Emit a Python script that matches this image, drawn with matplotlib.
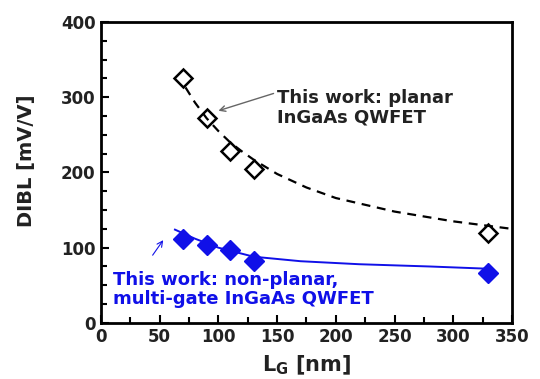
import matplotlib
matplotlib.use('Agg')
import matplotlib.pyplot as plt
from matplotlib.ticker import MultipleLocator

# data
lg_nm = [70, 90, 110, 130, 330]
dibl_planar = [325, 272, 228, 205, 120]
dibl_multigate = [112, 103, 97, 82, 66]

# fitted trend lines
fit_planar_x = [72, 80, 90, 100, 110, 120, 130, 150, 175, 200, 250, 300, 350]
fit_planar_y = [313, 293, 272, 255, 240, 228, 217, 198, 180, 166, 148, 135, 125]
fit_multi_x = [63, 80, 100, 130, 170, 220, 280, 330]
fit_multi_y = [124, 112, 100, 88, 82, 78, 75, 72]

c_blue = '#1010E8'
c_txt = '#222222'
# wide bold face: the reference lettering is stretched horizontally
plt.rcParams['font.family'] = ['DejaVu Sans']
plt.rcParams['font.weight'] = 'bold'
plt.rcParams['mathtext.fontset'] = 'dejavusans'

fig = plt.figure(figsize=(5.4, 3.79), dpi=100)
ax = fig.add_axes([0.187, 0.148, 0.761, 0.794])

ax.plot(lg_nm, dibl_planar, linestyle='none', marker='D', markersize=9.5,
        markerfacecolor='none', markeredgecolor='black', markeredgewidth=1.8)
ax.plot(fit_planar_x, fit_planar_y, color='black', linestyle=(0, (4, 3)), linewidth=1.6)

ax.plot(fit_multi_x, fit_multi_y, color=c_blue, linewidth=1.4)
ax.plot(lg_nm, dibl_multigate, linestyle='none', marker='D', markersize=10.5,
        color=c_blue)

ax.set_xlim(0, 350)
ax.set_ylim(0, 400)
ax.xaxis.set_major_locator(MultipleLocator(50))
ax.xaxis.set_minor_locator(MultipleLocator(25))
ax.yaxis.set_major_locator(MultipleLocator(100))
ax.yaxis.set_minor_locator(MultipleLocator(25))
ax.tick_params(which='both', direction='in', width=1.5, labelsize=12)
ax.tick_params(which='major', length=6, pad=4)
ax.tick_params(which='minor', length=4)
for lbl in ax.get_xticklabels() + ax.get_yticklabels():
    lbl.set_fontweight('bold')
    lbl.set_color(c_txt)
for s in ax.spines.values():
    s.set_linewidth(2)

ax.set_ylabel('DIBL [mV/V]', fontsize=14, fontweight='bold', color=c_txt)
ax.yaxis.set_label_coords(-0.157, 0.54)
ax.set_xlabel('L$_\\mathbf{G}$ [nm]', fontsize=15, fontweight='bold', color=c_txt, labelpad=5)

ax.text(150, 286, 'This work: planar\nInGaAs QWFET', fontsize=13, fontweight='bold',
        color=c_txt, va='center', ha='left', linespacing=1.05)
ax.annotate('', xy=(100, 282), xytext=(147, 305),
            arrowprops=dict(arrowstyle='->', color='#666666', lw=1.0,
                            shrinkA=0, shrinkB=0))
ax.text(10, 44, 'This work: non-planar,\nmulti-gate InGaAs QWFET', fontsize=13,
        fontweight='bold', color=c_blue, va='center', ha='left', linespacing=1.05)
ax.annotate('', xy=(53, 110), xytext=(44, 90),
            arrowprops=dict(arrowstyle='->', color=c_blue, lw=0.8,
                            shrinkA=0, shrinkB=0))

fig.savefig('out.png', dpi=100)
plt.close(fig)
